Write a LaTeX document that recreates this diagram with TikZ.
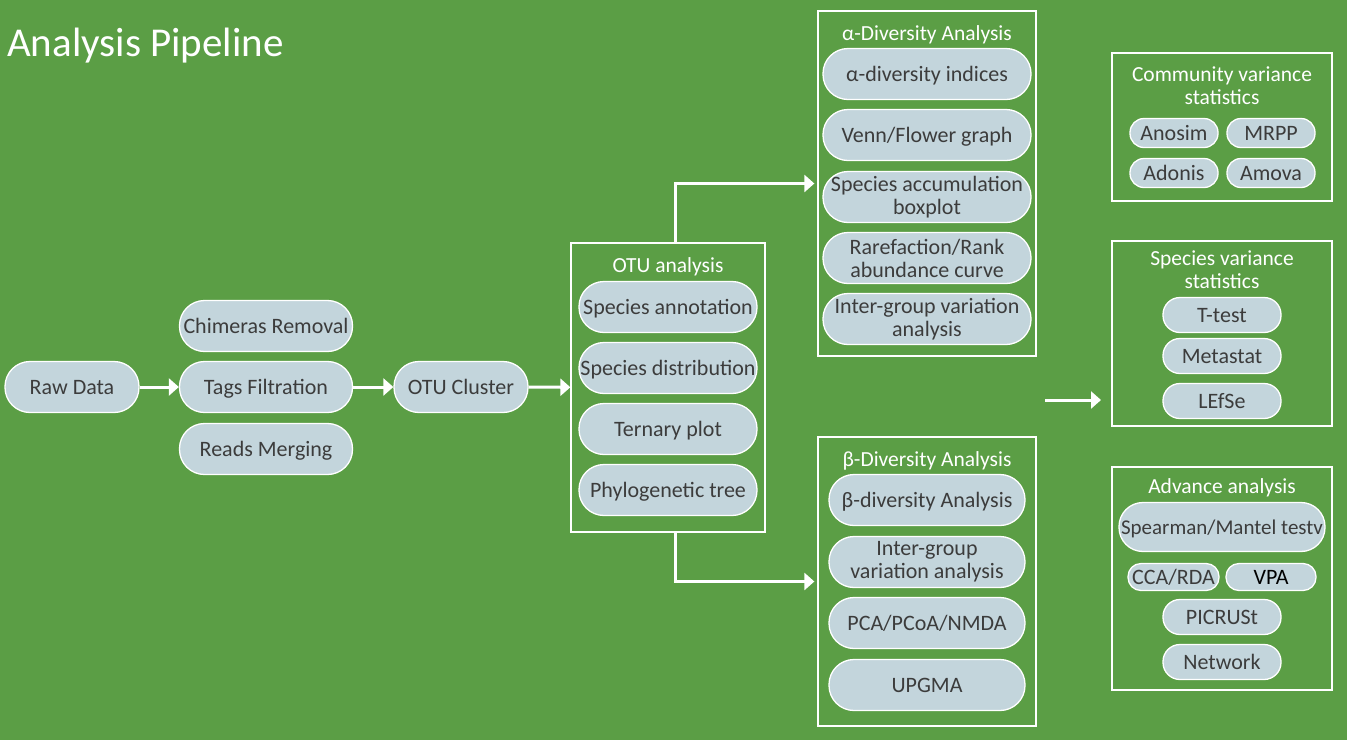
\documentclass[tikz,border=0pt]{standalone}
\usepackage{fontspec}
\setmainfont{Carlito}
\usetikzlibrary{arrows.meta}
\definecolor{bggreen}{HTML}{5B9E45}
\definecolor{pillfill}{HTML}{C3D5DC}
\definecolor{pilltext}{HTML}{3C3C3C}
\tikzset{
  pillm/.style={rectangle, rounded corners=25pt, draw=white, line width=1.3pt, fill=pillfill,
    text=pilltext, font=\fontsize{22}{23}\selectfont, align=center, inner sep=0pt,
    minimum height=51pt},
  pill/.style={pillm, text height=16pt, text depth=2pt},
  spill/.style={pill, minimum height=35pt, minimum width=118pt, rounded corners=17pt},
  tpill/.style={pill, minimum height=29pt, minimum width=88pt, rounded corners=14pt},
  frame/.style={draw=white, line width=1.3pt, inner sep=0pt},
  ftitlem/.style={text=white, font=\fontsize{21.5}{23}\selectfont, align=center, inner sep=0pt},
  ftitle/.style={ftitlem, text height=16pt, text depth=2pt},
  conn/.style={draw=white, line width=3pt, -{Triangle[length=10pt,width=17pt]}},
}
\begin{document}
\begin{tikzpicture}[x=1pt,y=-1pt]
\fill[bggreen] (0,0) rectangle (1347,740);
\useasboundingbox (0,0) rectangle (1347,740);
\node[anchor=base west, text=white, font=\fontsize{41}{44}\selectfont, inner sep=0pt] (title) at (7,56) {Analysis Pipeline};

% left chain
\node[pill, minimum width=134pt] (raw) at (72,387) {Raw Data};
\node[pill, minimum width=173pt] (chim) at (266,326) {Chimeras Removal};
\node[pill, minimum width=173pt] (tags) at (266,387) {Tags Filtration};
\node[pill, minimum width=173pt] (reads) at (266,449) {Reads Merging};
\node[pill, minimum width=134pt] (otuc) at (461,387) {OTU Cluster};

% OTU analysis box
\node[frame, minimum width=194pt, minimum height=289pt] (otubox) at (668,387.5) {};
\node[ftitle] (otut) at (668,265) {OTU analysis};
\node[pill, minimum width=178pt] (o1) at (668,307) {Species annotation};
\node[pill, minimum width=178pt] (o2) at (668,368) {Species distribution};
\node[pill, minimum width=178pt] (o3) at (668,429) {Ternary plot};
\node[pill, minimum width=178pt] (o4) at (668,490) {Phylogenetic tree};

% alpha box
\node[frame, minimum width=218pt, minimum height=345pt] (abox) at (927,183.5) {};
\node[ftitle] (at) at (927,33) {α-Diversity Analysis};
\node[pill, minimum width=208pt] (a1) at (927,74) {α-diversity indices};
\node[pill, minimum width=208pt] (a2) at (927,135) {Venn/Flower graph};
\node[pillm, minimum width=208pt] (a3) at (927,197) {Species accumulation\\boxplot};
\node[pillm, minimum width=208pt] (a4) at (927,258) {Rarefaction/Rank\\abundance curve};
\node[pillm, minimum width=208pt] (a5) at (927,319) {Inter-group variation\\analysis};

% beta box
\node[frame, minimum width=218pt, minimum height=289pt] (bbox) at (927,581.5) {};
\node[ftitle] (bt) at (927,459) {β-Diversity Analysis};
\node[pill, minimum width=196pt] (b1) at (927,500) {β-diversity Analysis};
\node[pillm, minimum width=196pt] (b2) at (927,562) {Inter-group\\variation analysis};
\node[pill, minimum width=196pt] (b3) at (927,623) {PCA/PCoA/NMDA};
\node[pill, minimum width=196pt] (b4) at (927,685) {UPGMA};

% community box
\node[frame, minimum width=220pt, minimum height=148pt] (cbox) at (1222,127) {};
\node[ftitlem] (ct) at (1222,85.5) {Community variance\\statistics};
\node[tpill] (c1) at (1174,133) {Anosim};
\node[tpill] (c2) at (1271,133) {MRPP};
\node[tpill] (c3) at (1174,173) {Adonis};
\node[tpill] (c4) at (1271,173) {Amova};

% species box
\node[frame, minimum width=220pt, minimum height=185pt] (sbox) at (1222,333.5) {};
\node[ftitlem] (st) at (1222,270) {Species variance\\statistics};
\node[spill] (s1) at (1222,315) {T-test};
\node[spill] (s2) at (1222,356) {Metastat};
\node[spill] (s3) at (1222,401) {LEfSe};

% advance box
\node[frame, minimum width=220pt, minimum height=223pt] (vbox) at (1222,578.5) {};
\node[ftitle] (vt) at (1222,486) {Advance analysis};
\node[pill, minimum width=206pt, minimum height=49pt, rounded corners=24pt, font=\fontsize{21}{23}\selectfont] (v1) at (1222,527) {Spearman/Mantel testv};
\node[pill, minimum width=91pt, minimum height=27pt, rounded corners=13pt] (v2) at (1173.5,577) {CCA/RDA};
\node[pill, minimum width=90pt, minimum height=27pt, rounded corners=13pt, text=black] (v3) at (1271,577) {VPA};
\node[spill] (v4) at (1222,617) {PICRUSt};
\node[spill] (v5) at (1222,662) {Network};

% connectors
\draw[conn] (raw) -- (tags);
\draw[conn] (tags) -- (otuc);
\draw[conn] (otuc) -- (otubox);
\draw[conn] ([xshift=7pt]otubox.north) |- ([xshift=-3pt]abox.west);
\draw[conn] ([xshift=7pt]otubox.south) |- ([xshift=-3pt]bbox.west);
\coordinate (fs) at (1045,400);
\coordinate (fe) at (1101,400);
\draw[conn] (fs) -- (fe);
\end{tikzpicture}
\end{document}
